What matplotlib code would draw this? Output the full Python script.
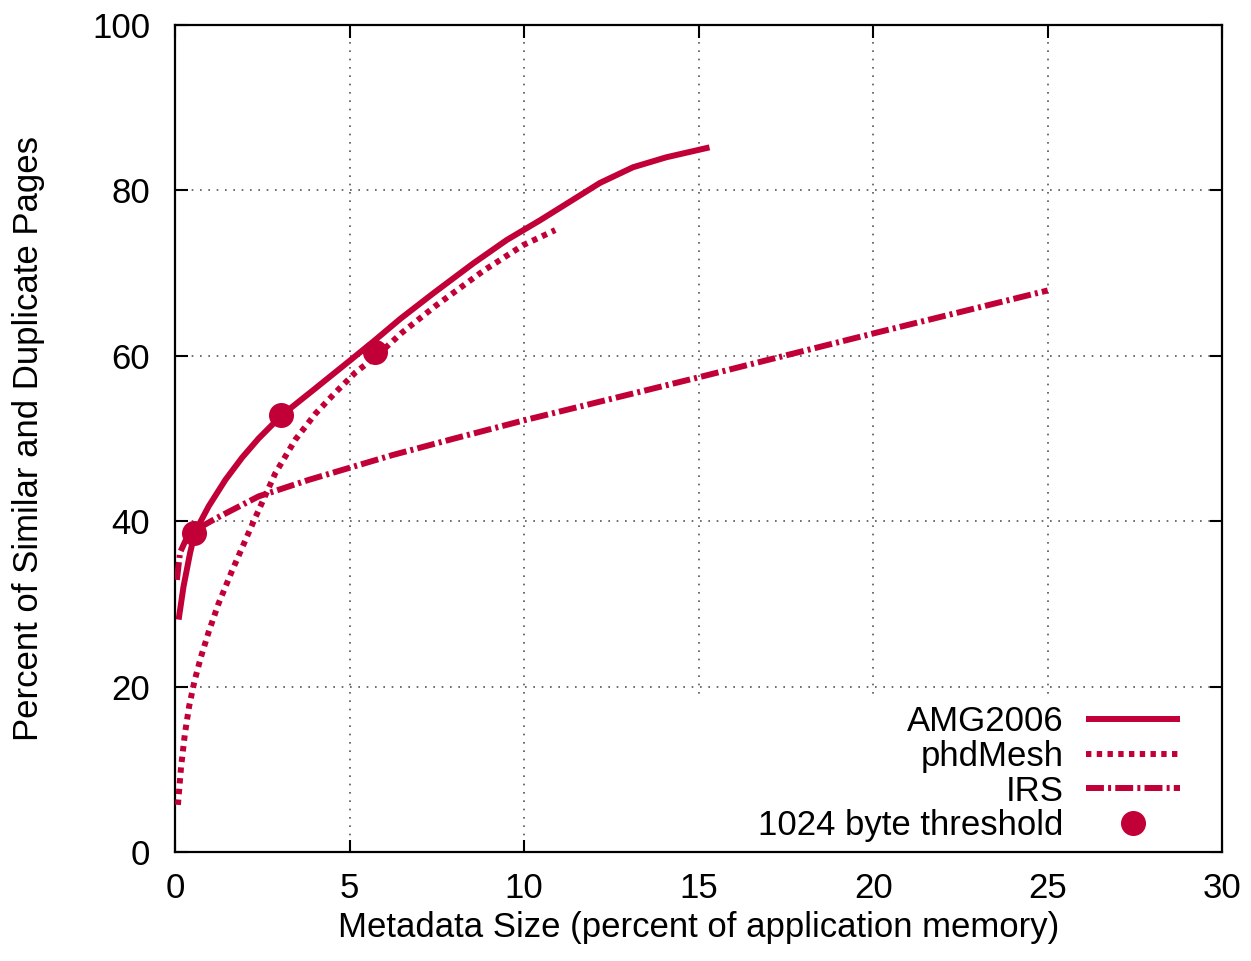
import matplotlib
matplotlib.use("Agg")
import matplotlib.pyplot as plt
from matplotlib.patches import Rectangle

plt.rcParams["font.family"] = ["Liberation Sans", "DejaVu Sans"]

RED = "#C20038"

# values (x: metadata size %, y: percent of pages)
amg_x = [0.1, 0.24, 0.43, 0.57, 0.96, 1.44, 1.92, 2.39, 3.05, 4.0, 5.0,
         5.7, 6.46, 7.41, 8.55, 9.5, 10.46, 11.03, 12.17, 13.12, 14.07, 15.31]
amg_y = [28.1, 32.1, 36.2, 38.7, 41.8, 45.0, 47.7, 50.0, 52.8, 56.0, 59.4,
         61.8, 64.5, 67.6, 71.2, 74.0, 76.4, 77.9, 80.9, 82.8, 84.0, 85.2]

phd_x = [0.08, 0.17, 0.28, 0.4, 0.55, 0.74, 0.96, 1.24, 1.62, 2.25, 2.87,
         3.45, 4.02, 4.6, 5.17, 5.75, 6.5, 7.45, 8.84, 9.98, 10.89]
phd_y = [5.7, 10.3, 14.3, 17.6, 20.6, 23.6, 26.6, 30.0, 33.9, 40.0, 45.8,
         49.9, 53.0, 55.6, 58.0, 59.9, 62.8, 66.0, 70.3, 73.4, 75.2]

irs_x = [0.05, 0.14, 0.29, 0.57, 1.15, 2.39, 3.83, 5.27, 6.23, 8.0, 10.0,
         15.0, 20.0, 25.0]
irs_y = [32.9, 36.2, 37.6, 38.9, 40.3, 43.0, 45.0, 46.8, 48.0, 50.0, 52.2,
         57.4, 62.7, 67.9]

thr_x = [0.55, 3.02, 5.72]
thr_y = [38.6, 52.8, 60.4]

xticks = [0, 5, 10, 15, 20, 25, 30]
yticks = [0, 20, 40, 60, 80, 100]

fig = plt.figure(figsize=(12.51, 9.61), dpi=100)
ax = fig.add_axes([0.14, 0.1134, 0.837, 0.8606])

ax.set_xlim(0, 30)
ax.set_ylim(0, 100)
ax.set_xticks(xticks)
ax.set_yticks(yticks)
ax.set_axisbelow(True)
ax.grid(True, color="#555555", linestyle=(0, (1, 4)), linewidth=1.2)

# white key area hides the grid like gnuplot's opaque key
ax.add_patch(Rectangle((0.49, 0.0), 0.51, 0.187, transform=ax.transAxes,
                       facecolor="white", edgecolor="none", zorder=1))

lw = 4.3
ax.plot(amg_x, amg_y, color=RED, lw=lw, solid_capstyle="butt",
        solid_joinstyle="round", label="AMG2006", zorder=3)
ax.plot(phd_x, phd_y, color=RED, lw=lw, linestyle=(0, (0.9, 0.9)),
        dash_capstyle="butt", label="phdMesh", zorder=3)
ax.plot(irs_x, irs_y, color=RED, lw=lw, linestyle=(0, (3.0, 0.7, 0.5, 0.7)),
        dash_capstyle="butt", label="IRS", zorder=3)
ax.plot(thr_x, thr_y, "o", color=RED, markersize=17, linestyle="none",
        label="1024 byte threshold", zorder=4)

for s in ax.spines.values():
    s.set_linewidth(1.6)
ax.tick_params(direction="in", length=9, width=1.5, top=True, right=True,
               labelsize=25)
ax.tick_params(axis="x", pad=14.5)
ax.tick_params(axis="y", pad=18)

ax.set_xlabel("Metadata Size (percent of application memory)", fontsize=25,
              labelpad=4)
ax.set_ylabel("Percent of Similar and Duplicate Pages", fontsize=25,
              labelpad=34)

leg = ax.legend(loc="lower right", markerfirst=False, frameon=False,
                fontsize=25, handlelength=2.7, handletextpad=0.65,
                labelspacing=0.05, borderaxespad=0.0,
                bbox_to_anchor=(0.9726, -0.005))
for t in leg.get_texts():
    t.set_ha("right")

fig.savefig("out.png", dpi=100)
